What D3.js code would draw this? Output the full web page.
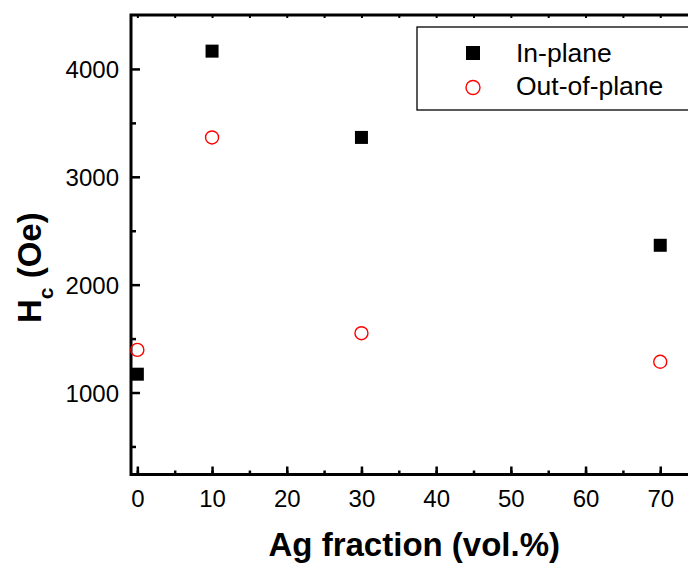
<!DOCTYPE html>
<html lang="en">
<head>
<meta charset="UTF-8">
<title>Hc vs Ag fraction</title>
<style>
    body { margin: 0; padding: 0; background: #fff; }
    svg { display: block; font-family: Arial, "Liberation Sans", sans-serif; }
    .tick-label { font-size: 24px; fill: #000; }
    .axis-title { font-size: 33px; font-weight: bold; fill: #000; }
    .legend-text { font-size: 26.5px; fill: #000; }
</style>
</head>
<body>
<svg id="chart" width="688" height="563"></svg>
<script src="https://d3js.org/d3.v7.min.js"></script>
<script>
// data
const agFraction = [0, 10, 30, 70];
const inPlane = [1170, 4165, 3365, 2365];
const outOfPlane = [1395, 3365, 1550, 1285];
const seriesNames = ["In-plane", "Out-of-plane"];
const xTicks = [0, 10, 20, 30, 40, 50, 60, 70];
const yTicks = [1000, 2000, 3000, 4000];

const svg = d3.select('#chart');
const plotLeft = 131, plotRight = 697.6, plotTop = 15, plotBottom = 474.5;

const x = d3.scaleLinear().domain([-0.85, 75]).range([plotLeft, plotRight]);
const y = d3.scaleLinear().domain([240, 4500]).range([plotBottom, plotTop]);

const axisW = 3;

// bottom axis (ticks point inward)
const xMinor = d3.range(0, 76, 5);
svg.append('g')
    .attr('transform', `translate(0,${plotBottom})`)
    .call(d3.axisBottom(x).tickValues(xMinor).tickSize(-4).tickFormat(''))
    .call(g => g.select('.domain').remove())
    .call(g => g.selectAll('line').attr('stroke-width', 2.5));
svg.append('g')
    .attr('transform', `translate(0,${plotBottom})`)
    .call(d3.axisBottom(x).tickValues(xTicks).tickSize(-8).tickPadding(0).tickFormat(d3.format('d')))
    .call(g => g.select('.domain').remove())
    .call(g => g.selectAll('line').attr('stroke-width', 2.5))
    .call(g => g.selectAll('text').attr('class', 'tick-label').attr('y', 32).attr('dy', 0));

// top axis small ticks
svg.append('g')
    .attr('transform', `translate(0,${plotTop})`)
    .call(d3.axisTop(x).tickValues(xMinor).tickSize(-3).tickFormat(''))
    .call(g => g.select('.domain').remove())
    .call(g => g.selectAll('line').attr('stroke-width', 2));

// left axis
const yMinor = [500, 1500, 2500, 3500];
svg.append('g')
    .attr('transform', `translate(${plotLeft},0)`)
    .call(d3.axisLeft(y).tickValues(yMinor).tickSize(-5).tickFormat(''))
    .call(g => g.select('.domain').remove())
    .call(g => g.selectAll('line').attr('stroke-width', 2.5));
svg.append('g')
    .attr('transform', `translate(${plotLeft},0)`)
    .call(d3.axisLeft(y).tickValues(yTicks).tickSize(-9).tickPadding(0).tickFormat(d3.format('d')))
    .call(g => g.select('.domain').remove())
    .call(g => g.selectAll('line').attr('stroke-width', 2.5))
    .call(g => g.selectAll('text').attr('class', 'tick-label').attr('x', -12).attr('dy', '0.36em'));

// frame
svg.append('rect')
    .attr('x', plotLeft).attr('y', plotTop)
    .attr('width', plotRight - plotLeft).attr('height', plotBottom - plotTop)
    .attr('fill', 'none').attr('stroke', '#000').attr('stroke-width', axisW);

// data markers
const sq = 13;
svg.selectAll('.pt-in')
    .data(agFraction.map((a, i) => [a, inPlane[i]]))
    .enter().append('rect')
    .attr('class', 'pt-in')
    .attr('x', d => x(d[0]) - sq / 2)
    .attr('y', d => y(d[1]) - sq / 2)
    .attr('width', sq).attr('height', sq)
    .attr('fill', '#000');

svg.selectAll('.pt-out')
    .data(agFraction.map((a, i) => [a, outOfPlane[i]]))
    .enter().append('circle')
    .attr('class', 'pt-out')
    .attr('cx', d => x(d[0]))
    .attr('cy', d => y(d[1]))
    .attr('r', 6.5)
    .attr('fill', 'none')
    .attr('stroke', '#ff0000')
    .attr('stroke-width', 1.4);

// legend
const lg = svg.append('g');
lg.append('rect')
    .attr('x', 417).attr('y', 27)
    .attr('width', 290).attr('height', 83)
    .attr('fill', '#fff').attr('stroke', '#000').attr('stroke-width', 1.3);
lg.append('rect')
    .attr('x', 473 - 7).attr('y', 53 - 7)
    .attr('width', 14).attr('height', 14)
    .attr('fill', '#000');
lg.append('circle')
    .attr('cx', 473).attr('cy', 87.5).attr('r', 7)
    .attr('fill', 'none').attr('stroke', '#ff0000').attr('stroke-width', 1.4);
lg.append('text').attr('class', 'legend-text')
    .attr('x', 516).attr('y', 62).text(seriesNames[0]);
lg.append('text').attr('class', 'legend-text')
    .attr('x', 516).attr('y', 95).text(seriesNames[1]);

// axis titles
svg.append('text').attr('class', 'axis-title')
    .attr('x', (plotLeft + plotRight) / 2).attr('y', 556)
    .attr('text-anchor', 'middle')
    .text('Ag fraction (vol.%)');

const yt = svg.append('text').attr('class', 'axis-title')
    .attr('transform', 'translate(41,323) rotate(-90)')
    .attr('text-anchor', 'start');
yt.append('tspan').text('H');
yt.append('tspan').attr('dy', 12).attr('font-size', 21).text('c');
yt.append('tspan').attr('dy', -12).text(' (Oe)');
</script>
</body>
</html>
